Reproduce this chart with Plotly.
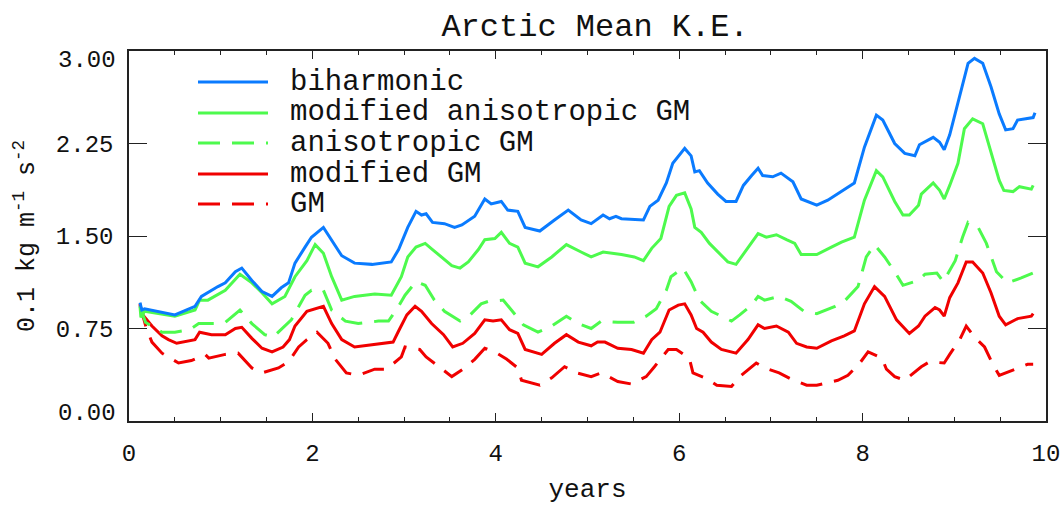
import plotly.graph_objects as go

# ---------------- data ----------------
years_biharmonic = [0.12, 0.14, 0.17, 0.32, 0.50, 0.72, 0.79, 0.97, 1.05, 1.16,
                    1.23, 1.34, 1.45, 1.56, 1.66, 1.74, 1.81, 1.92, 1.99, 2.12,
                    2.21, 2.32, 2.46, 2.65, 2.86, 2.94, 3.04, 3.13, 3.19, 3.24,
                    3.31, 3.44, 3.55, 3.63, 3.77, 3.88, 3.95, 4.06, 4.13, 4.24,
                    4.32, 4.48, 4.64, 4.79, 4.93, 5.04, 5.17, 5.24, 5.31, 5.37,
                    5.61, 5.68, 5.77, 5.86, 5.93, 6.06, 6.13, 6.17, 6.22, 6.31,
                    6.42, 6.51, 6.62, 6.70, 6.79, 6.86, 6.91, 7.02, 7.11, 7.24,
                    7.33, 7.50, 7.62, 7.77, 7.91, 8.02, 8.15, 8.22, 8.35, 8.46,
                    8.57, 8.62, 8.77, 8.84, 8.89, 8.95, 9.00, 9.09, 9.15, 9.22,
                    9.31, 9.40, 9.49, 9.56, 9.64, 9.69, 9.86, 9.88]
ke_biharmonic = [0.96, 0.90, 0.91, 0.89, 0.86, 0.93, 1.01, 1.09, 1.12, 1.21,
                 1.24, 1.14, 1.05, 1.01, 1.08, 1.12, 1.28, 1.41, 1.49, 1.57,
                 1.47, 1.34, 1.28, 1.27, 1.29, 1.39, 1.57, 1.70, 1.67, 1.68,
                 1.61, 1.60, 1.57, 1.59, 1.66, 1.80, 1.76, 1.78, 1.71, 1.70,
                 1.57, 1.54, 1.63, 1.71, 1.63, 1.60, 1.67, 1.64, 1.66, 1.64,
                 1.63, 1.74, 1.79, 1.93, 2.09, 2.21, 2.15, 2.02, 2.03, 1.93,
                 1.84, 1.78, 1.78, 1.91, 1.99, 2.05, 1.99, 1.98, 2.01, 1.94,
                 1.80, 1.75, 1.79, 1.86, 1.93, 2.22, 2.48, 2.44, 2.25, 2.17,
                 2.15, 2.24, 2.30, 2.26, 2.20, 2.32, 2.46, 2.71, 2.90, 2.94,
                 2.90, 2.71, 2.49, 2.36, 2.37, 2.44, 2.46, 2.50]

years_mod_aniso = [0.12, 0.13, 0.17, 0.32, 0.50, 0.72, 0.77, 0.86, 1.05, 1.21,
                   1.34, 1.45, 1.56, 1.70, 1.81, 1.94, 2.03, 2.12, 2.21, 2.32,
                   2.46, 2.68, 2.86, 2.97, 3.04, 3.13, 3.23, 3.31, 3.41, 3.52,
                   3.61, 3.70, 3.81, 3.88, 3.99, 4.06, 4.15, 4.24, 4.32, 4.46,
                   4.61, 4.77, 4.93, 5.04, 5.17, 5.31, 5.37, 5.51, 5.61, 5.70,
                   5.80, 5.89, 5.97, 6.06, 6.13, 6.17, 6.24, 6.33, 6.44, 6.53,
                   6.62, 6.75, 6.86, 6.95, 7.06, 7.17, 7.26, 7.33, 7.50, 7.66,
                   7.77, 7.91, 8.02, 8.15, 8.22, 8.35, 8.44, 8.51, 8.61, 8.64,
                   8.77, 8.84, 8.89, 8.95, 9.04, 9.11, 9.20, 9.31, 9.40, 9.49,
                   9.54, 9.64, 9.71, 9.84, 9.86]
ke_mod_aniso = [0.93, 0.84, 0.89, 0.87, 0.85, 0.90, 0.98, 0.98, 1.06, 1.19,
                1.12, 1.04, 0.95, 1.01, 1.17, 1.30, 1.43, 1.36, 1.17, 0.98,
                1.01, 1.03, 1.02, 1.17, 1.33, 1.41, 1.44, 1.39, 1.33, 1.26,
                1.24, 1.29, 1.39, 1.47, 1.48, 1.53, 1.44, 1.41, 1.28, 1.25,
                1.33, 1.43, 1.37, 1.33, 1.37, 1.36, 1.35, 1.33, 1.30, 1.40,
                1.48, 1.74, 1.83, 1.85, 1.72, 1.57, 1.53, 1.44, 1.36, 1.29,
                1.27, 1.40, 1.52, 1.49, 1.51, 1.47, 1.44, 1.35, 1.35, 1.41,
                1.45, 1.49, 1.79, 2.03, 1.98, 1.78, 1.67, 1.67, 1.75, 1.84,
                1.93, 1.87, 1.80, 1.91, 2.09, 2.37, 2.45, 2.41, 2.17, 1.95,
                1.87, 1.86, 1.90, 1.88, 1.91]

years_aniso = [0.12, 0.18, 0.36, 0.50, 0.66, 0.76, 0.94, 1.05, 1.21, 1.34,
               1.48, 1.57, 1.77, 1.92, 1.99, 2.12, 2.21, 2.36, 2.50, 2.72,
               2.83, 2.94, 3.01, 3.13, 3.23, 3.33, 3.44, 3.61, 3.72, 3.84,
               3.92, 4.08, 4.17, 4.30, 4.46, 4.61, 4.77, 4.90, 5.04, 5.15,
               5.33, 5.50, 5.64, 5.75, 5.86, 5.91, 6.04, 6.13, 6.22, 6.35,
               6.57, 6.66, 6.79, 6.86, 6.93, 7.09, 7.22, 7.36, 7.50, 7.70,
               7.80, 7.95, 8.04, 8.13, 8.24, 8.35, 8.44, 8.61, 8.68, 8.81,
               8.88, 8.94, 9.01, 9.09, 9.15, 9.26, 9.35, 9.46, 9.58, 9.73,
               9.86]
ke_aniso = [0.93, 0.80, 0.72, 0.72, 0.74, 0.79, 0.79, 0.80, 0.90, 0.79,
            0.70, 0.68, 0.82, 1.02, 1.06, 1.06, 0.90, 0.81, 0.79, 0.81,
            0.81, 0.93, 1.02, 1.13, 1.10, 0.98, 0.89, 0.81, 0.86, 0.95,
            0.97, 0.98, 0.90, 0.78, 0.72, 0.77, 0.85, 0.79, 0.75, 0.81,
            0.80, 0.80, 0.85, 0.91, 1.06, 1.17, 1.24, 1.13, 0.98, 0.89,
            0.81, 0.86, 0.94, 1.01, 0.98, 1.01, 0.97, 0.89, 0.87, 0.93,
            0.97, 1.09, 1.33, 1.43, 1.33, 1.21, 1.10, 1.14, 1.19, 1.20,
            1.13, 1.21, 1.30, 1.49, 1.61, 1.57, 1.44, 1.21, 1.12, 1.16,
            1.20]

years_mod_gm = [0.12, 0.14, 0.25, 0.36, 0.43, 0.52, 0.72, 0.77, 0.90, 1.05,
                1.16, 1.23, 1.34, 1.45, 1.56, 1.68, 1.75, 1.81, 1.94, 2.03,
                2.12, 2.21, 2.32, 2.46, 2.68, 2.88, 2.94, 3.03, 3.12, 3.19,
                3.30, 3.43, 3.53, 3.64, 3.77, 3.88, 3.97, 4.06, 4.15, 4.24,
                4.32, 4.50, 4.64, 4.77, 4.90, 5.04, 5.11, 5.19, 5.33, 5.48,
                5.61, 5.70, 5.79, 5.89, 5.99, 6.06, 6.13, 6.19, 6.26, 6.35,
                6.46, 6.62, 6.75, 6.86, 6.93, 7.06, 7.19, 7.28, 7.39, 7.50,
                7.66, 7.80, 7.91, 8.02, 8.13, 8.24, 8.37, 8.51, 8.61, 8.68,
                8.79, 8.84, 8.89, 8.95, 9.04, 9.13, 9.20, 9.31, 9.40, 9.49,
                9.56, 9.69, 9.84, 9.86]
ke_mod_gm = [0.95, 0.87, 0.77, 0.69, 0.66, 0.63, 0.66, 0.72, 0.70, 0.70,
             0.75, 0.76, 0.67, 0.59, 0.56, 0.60, 0.66, 0.77, 0.89, 0.91,
             0.93, 0.79, 0.66, 0.60, 0.62, 0.64, 0.73, 0.86, 0.93, 0.89,
             0.79, 0.70, 0.60, 0.63, 0.71, 0.82, 0.81, 0.82, 0.74, 0.71,
             0.58, 0.54, 0.63, 0.70, 0.64, 0.61, 0.64, 0.64, 0.59, 0.58,
             0.55, 0.66, 0.72, 0.90, 0.94, 0.95, 0.86, 0.75, 0.72, 0.64,
             0.58, 0.55, 0.66, 0.78, 0.75, 0.77, 0.72, 0.63, 0.60, 0.59,
             0.65, 0.69, 0.73, 0.95, 1.09, 1.01, 0.82, 0.71, 0.77, 0.85,
             0.92, 0.90, 0.85, 1.00, 1.12, 1.29, 1.29, 1.20, 1.04, 0.85,
             0.78, 0.83, 0.85, 0.87]

years_gm = [0.12, 0.19, 0.25, 0.36, 0.54, 0.68, 0.83, 0.87, 1.05, 1.19,
            1.34, 1.45, 1.63, 1.74, 1.85, 1.94, 2.05, 2.17, 2.25, 2.37,
            2.50, 2.68, 2.81, 2.97, 3.01, 3.17, 3.24, 3.41, 3.52, 3.66,
            3.77, 3.88, 3.99, 4.12, 4.24, 4.28, 4.48, 4.61, 4.75, 4.88,
            5.04, 5.15, 5.33, 5.48, 5.64, 5.73, 5.88, 5.97, 6.11, 6.15,
            6.28, 6.41, 6.57, 6.66, 6.84, 6.93, 7.09, 7.22, 7.39, 7.50,
            7.73, 7.84, 7.97, 8.06, 8.21, 8.26, 8.35, 8.46, 8.64, 8.73,
            8.89, 8.95, 9.06, 9.13, 9.22, 9.33, 9.42, 9.49, 9.66, 9.80,
            9.86]
ke_gm = [0.94, 0.75, 0.64, 0.55, 0.47, 0.49, 0.54, 0.51, 0.54, 0.55,
         0.43, 0.39, 0.43, 0.48, 0.60, 0.66, 0.72, 0.63, 0.50, 0.39,
         0.37, 0.42, 0.42, 0.52, 0.60, 0.58, 0.52, 0.42, 0.36, 0.43,
         0.50, 0.59, 0.56, 0.50, 0.43, 0.33, 0.29, 0.35, 0.44, 0.39,
         0.36, 0.39, 0.32, 0.30, 0.36, 0.44, 0.58, 0.58, 0.51, 0.39,
         0.35, 0.29, 0.28, 0.36, 0.47, 0.43, 0.39, 0.34, 0.29, 0.29,
         0.33, 0.37, 0.47, 0.56, 0.51, 0.42, 0.36, 0.33, 0.44, 0.48,
         0.47, 0.54, 0.66, 0.77, 0.68, 0.60, 0.46, 0.37, 0.42, 0.46,
         0.46]

series_names = ["biharmonic", "modified anisotropic GM", "anisotropic GM",
                "modified GM", "GM"]
y_tick_vals = [0.00, 0.75, 1.50, 2.25, 3.00]
y_tick_text = ["0.00", "0.75", "1.50", "2.25", "3.00"]
x_tick_vals = [0, 2, 4, 6, 8, 10]

# ---------------- styling ----------------
BLUE = "#0A7BFF"
GREEN = "#4DFA4D"
RED = "#F00000"
DASH = "22px,12px"
FONT = "Liberation Mono"
INK = "#111"
LW = 3

series = [
    (years_biharmonic, ke_biharmonic, BLUE, "solid"),
    (years_mod_aniso, ke_mod_aniso, GREEN, "solid"),
    (years_aniso, ke_aniso, GREEN, DASH),
    (years_mod_gm, ke_mod_gm, RED, "solid"),
    (years_gm, ke_gm, RED, DASH),
]

fig = go.Figure()
# draw back to front so blue sits on top like the reference
for (xs, ys, col, dash), name in reversed(list(zip(series, series_names))):
    fig.add_trace(go.Scatter(x=xs, y=ys, mode="lines", name=name,
                             line=dict(color=col, width=LW, dash=dash),
                             showlegend=False))

# ---------------- manual IDL-style legend ----------------
PLOT_L, PLOT_R, PLOT_T, PLOT_B = 129, 1046, 51, 421
W_PX, H_PX = PLOT_R - PLOT_L, PLOT_B - PLOT_T


def px_x(px):
    return (px - PLOT_L) / W_PX


def px_y(py):
    return (PLOT_B - py) / H_PX


legend_rows_px = [82, 113, 143, 174, 204]
shapes = []
annotations = []
for (xs, ys, col, dash), name, row in zip(series, series_names, legend_rows_px):
    shapes.append(dict(type="line", xref="paper", yref="paper",
                       x0=px_x(198), x1=px_x(268), y0=px_y(row), y1=px_y(row),
                       line=dict(color=col, width=LW, dash=dash)))
    annotations.append(dict(text=name, xref="paper", yref="paper",
                            x=px_x(288), y=px_y(row), xanchor="left",
                            yanchor="middle", showarrow=False,
                            font=dict(family=FONT, size=29, color=INK)))

# end y tick labels are nudged inward (IDL style); inner ones are axis labels
tick_font = dict(family=FONT, size=24, color=INK)
annotations.append(dict(text=y_tick_text[-1], xref="paper", yref="y",
                        x=0, y=y_tick_vals[-1], xanchor="right", yanchor="middle",
                        xshift=-11, yshift=-9, showarrow=False, font=tick_font))
annotations.append(dict(text=y_tick_text[0], xref="paper", yref="y",
                        x=0, y=y_tick_vals[0], xanchor="right", yanchor="middle",
                        xshift=-11, yshift=8, showarrow=False, font=tick_font))

fig.update_layout(
    width=1064, height=505,
    margin=dict(l=PLOT_L, r=1064 - PLOT_R, t=PLOT_T, b=505 - PLOT_B, pad=0),
    paper_bgcolor="white", plot_bgcolor="white",
    title=dict(text="Arctic Mean K.E.", x=595 / 1064, xref="container",
               xanchor="center", y=1 - 25 / 505, yref="container",
               yanchor="middle", font=dict(family=FONT, size=32, color=INK)),
    shapes=shapes, annotations=annotations,
    xaxis=dict(range=[0, 10], tickvals=x_tick_vals, ticks="inside",
               ticklen=8, tickwidth=1.2, tickcolor="#222",
               minor=dict(dtick=0.5, ticks="inside", ticklen=4,
                          tickwidth=1.2, tickcolor="#222", showgrid=False),
               showline=True, linecolor="#222", linewidth=1.5, mirror="ticks",
               showgrid=False, zeroline=False, tickfont=tick_font,
               ticklabelstandoff=9, automargin=False,
               title=dict(text="years", font=dict(family=FONT, size=26, color=INK),
                          standoff=18)),
    yaxis=dict(range=[0, 3], tickvals=y_tick_vals[1:-1],
               ticktext=y_tick_text[1:-1],
               ticks="inside", ticklen=18, tickwidth=1.2, tickcolor="#222",
               showline=True, linecolor="#222", linewidth=1.5, mirror="ticks",
               showgrid=False, zeroline=False, tickfont=tick_font,
               ticklabelstandoff=9, automargin=False,
               title=dict(text="0.1 kg m<sup>-1</sup> s<sup>-2</sup>",
                          font=dict(family=FONT, size=25, color=INK),
                          standoff=14)),
)

fig.write_html("out.html")
